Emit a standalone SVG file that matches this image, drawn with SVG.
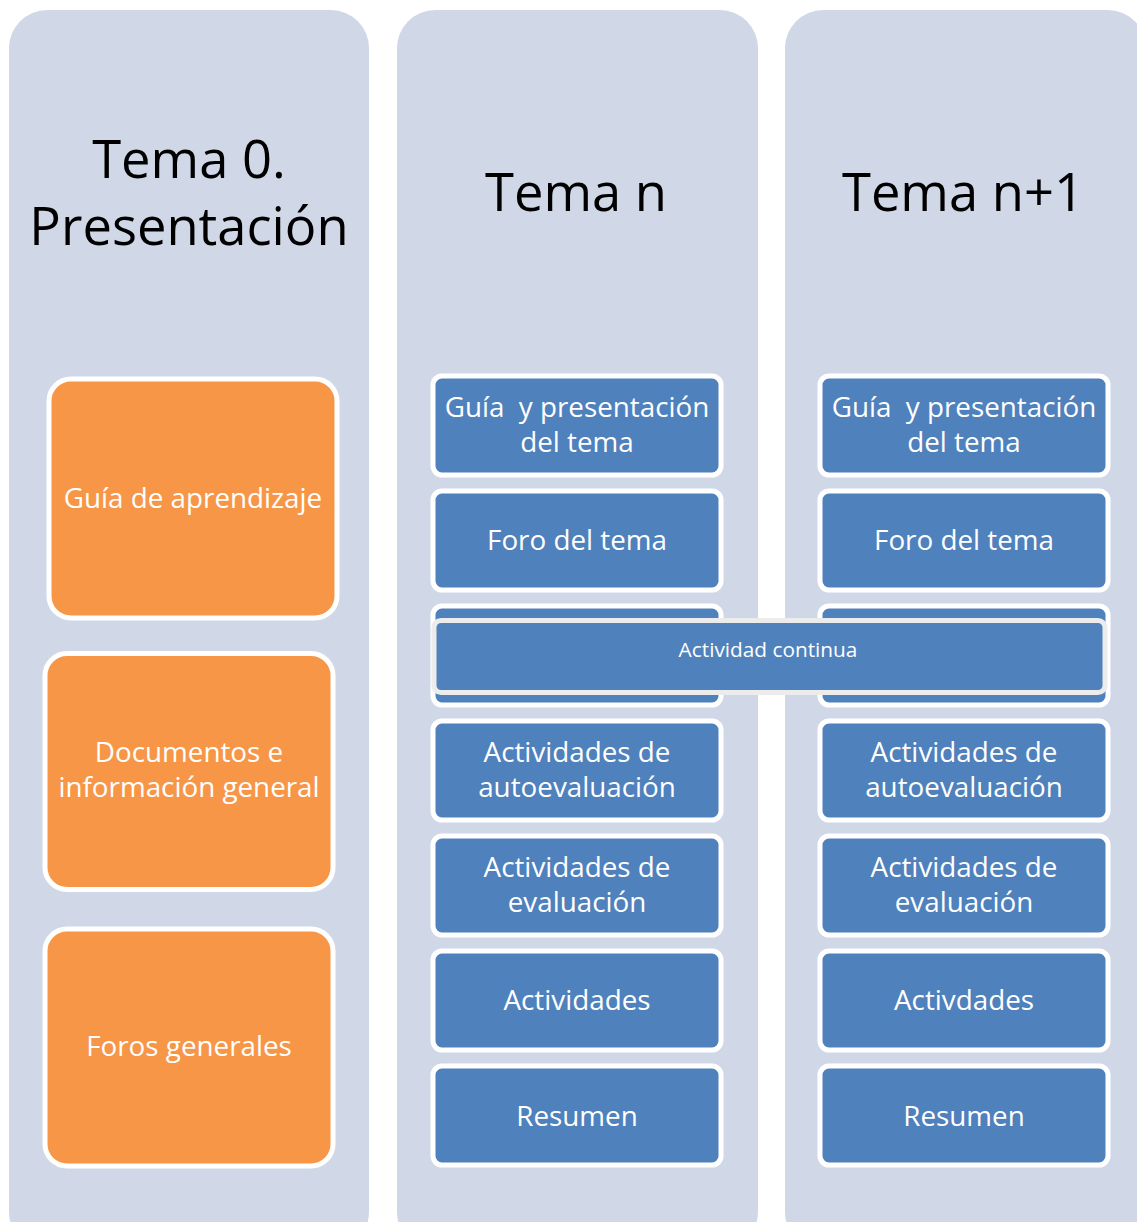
<svg xmlns="http://www.w3.org/2000/svg" width="1137" height="1222" viewBox="0 0 1137 1222">
<style>
.col{fill:#d0d8e8}
.title{font-family:"Open Sans",sans-serif;font-size:52.5px;fill:#000;text-anchor:middle}
.org{fill:#f79646;stroke:#fff;stroke-width:5}
.blu{fill:#4f81bd;stroke:#fff;stroke-width:5}
.ac{fill:#4f81bd;stroke:#ececec;stroke-width:5}
.t{font-family:"Open Sans",sans-serif;font-size:27.8px;fill:#fff;text-anchor:middle;white-space:pre}
.ts{font-family:"Open Sans",sans-serif;font-size:20.8px;fill:#fff;text-anchor:middle}
</style>
<rect width="1137" height="1222" fill="#fff"/>
<g id="col-tema0">
<rect class="col" x="9" y="10" width="360" height="1240" rx="38"/>
<text class="title" x="189" y="178">Tema 0.</text>
<text class="title" x="189" y="245">Presentación</text>
</g>
<g id="col-teman">
<rect class="col" x="397" y="10" width="361" height="1240" rx="38"/>
<text class="title" x="576" y="211">Tema n</text>
</g>
<g id="col-teman1">
<rect class="col" x="785" y="10" width="361" height="1240" rx="38"/>
<text class="title" x="963" y="211">Tema n+1</text>
</g>
<g id="guia-aprendizaje">
<rect class="org" x="49" y="379" width="288" height="239" rx="22"/>
<text class="t" x="193" y="508">Guía de aprendizaje</text>
</g>
<g id="documentos">
<rect class="org" x="45" y="653.5" width="288" height="236" rx="22"/>
<text class="t" x="189" y="762">Documentos e</text>
<text class="t" x="189" y="797">información general</text>
</g>
<g id="foros-generales">
<rect class="org" x="45" y="929" width="288" height="237" rx="22"/>
<text class="t" x="189" y="1056">Foros generales</text>
</g>
<g id="n-guia">
<rect class="blu" x="433" y="376" width="288" height="99" rx="9"/>
<text class="t" x="577" y="417">Guía  y presentación</text>
<text class="t" x="577" y="452">del tema</text>
</g>
<g id="n-foro">
<rect class="blu" x="433" y="491" width="288" height="99" rx="9"/>
<text class="t" x="577" y="550">Foro del tema</text>
</g>
<g id="n-hidden">
<rect class="blu" x="433" y="606" width="288" height="99" rx="9"/>
</g>
<g id="n-autoeval">
<rect class="blu" x="433" y="721" width="288" height="99" rx="9"/>
<text class="t" x="577" y="762">Actividades de</text>
<text class="t" x="577" y="797">autoevaluación</text>
</g>
<g id="n-eval">
<rect class="blu" x="433" y="836" width="288" height="99" rx="9"/>
<text class="t" x="577" y="877">Actividades de</text>
<text class="t" x="577" y="912">evaluación</text>
</g>
<g id="n-actividades">
<rect class="blu" x="433" y="951" width="288" height="99" rx="9"/>
<text class="t" x="577" y="1010">Actividades</text>
</g>
<g id="n-resumen">
<rect class="blu" x="433" y="1066" width="288" height="99" rx="9"/>
<text class="t" x="577" y="1126">Resumen</text>
</g>
<g id="n1-guia">
<rect class="blu" x="820" y="376" width="288" height="99" rx="9"/>
<text class="t" x="964" y="417">Guía  y presentación</text>
<text class="t" x="964" y="452">del tema</text>
</g>
<g id="n1-foro">
<rect class="blu" x="820" y="491" width="288" height="99" rx="9"/>
<text class="t" x="964" y="550">Foro del tema</text>
</g>
<g id="n1-hidden">
<rect class="blu" x="820" y="606" width="288" height="99" rx="9"/>
</g>
<g id="n1-autoeval">
<rect class="blu" x="820" y="721" width="288" height="99" rx="9"/>
<text class="t" x="964" y="762">Actividades de</text>
<text class="t" x="964" y="797">autoevaluación</text>
</g>
<g id="n1-eval">
<rect class="blu" x="820" y="836" width="288" height="99" rx="9"/>
<text class="t" x="964" y="877">Actividades de</text>
<text class="t" x="964" y="912">evaluación</text>
</g>
<g id="n1-actividades">
<rect class="blu" x="820" y="951" width="288" height="99" rx="9"/>
<text class="t" x="964" y="1010">Activdades</text>
</g>
<g id="n1-resumen">
<rect class="blu" x="820" y="1066" width="288" height="99" rx="9"/>
<text class="t" x="964" y="1126">Resumen</text>
</g>
<g id="actividad-continua">
<rect class="ac" x="434" y="620.5" width="671" height="72" rx="7"/>
<text class="ts" x="768" y="657">Actividad continua</text>
</g>
<g id="connectors"></g>
</svg>
